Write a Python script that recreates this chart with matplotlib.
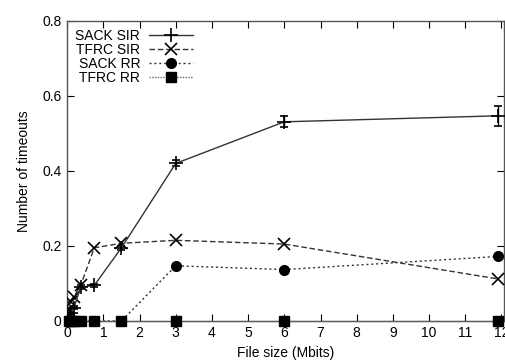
import numpy as np
import matplotlib
matplotlib.use("Agg")
import matplotlib.pyplot as plt
from matplotlib.lines import Line2D

plt.rcParams['font.family'] = ['Liberation Sans', 'DejaVu Sans']

file_size = [0.047, 0.094, 0.1875, 0.375, 0.75, 1.5, 3, 6, 11.9]
sack_sir = [0.005, 0.02, 0.035, 0.09, 0.095, 0.195, 0.42, 0.531, 0.547]
sack_sir_err = [0.002, 0.003, 0.004, 0.005, 0.004, 0.006, 0.008, 0.015, 0.027]
tfrc_sir = [0.03, 0.05, 0.065, 0.095, 0.195, 0.207, 0.215, 0.205, 0.112]
sack_rr = [0, 0, 0, 0, 0, 0, 0.147, 0.137, 0.172]
tfrc_rr = [0, 0, 0, 0, 0, 0, 0, 0, 0]

def main():
    fig = plt.figure(figsize=(5.05, 3.61), dpi=100)
    ax = fig.add_axes([0.133, 0.111, 0.865, 0.831])
    lc = '#333333'
    ax.errorbar(file_size, sack_sir, yerr=sack_sir_err, color=lc, lw=1.0,
                marker='+', ms=10, mew=1.2, mec='black', ecolor='black',
                elinewidth=1.0, capsize=3, zorder=4)
    h1 = Line2D([], [], color=lc, lw=1.0, marker='+', ms=10, mew=1.2,
                mec='black', label='SACK SIR')
    h2, = ax.plot(file_size, tfrc_sir, color=lc, lw=1.0, ls=(0, (4, 2)),
                  marker='x', ms=8, mew=1.2, mec='black', label='TFRC SIR', zorder=4)
    h3, = ax.plot(file_size, sack_rr, color=lc, lw=1.0, ls=(0, (1.5, 2)),
                  marker='o', ms=7, mfc='black', mec='black', label='SACK RR', zorder=4)
    h4, = ax.plot(file_size, tfrc_rr, color='#666666', lw=1.0, ls=(0, (1, 1)),
                  marker='s', ms=7, mfc='black', mec='black', label='TFRC RR', zorder=5,
                  clip_on=False)

    ax.set_xlim(0, 12.07)
    ax.set_ylim(0, 0.8)
    ax.set_xticks(range(0, 13))
    ax.set_yticks([0, 0.2, 0.4, 0.6, 0.8])
    ax.set_yticklabels(['0', '0.2', '0.4', '0.6', '0.8'])
    ax.tick_params(direction='in', top=True, right=True, labelsize=10,
                   length=5, width=0.8, pad=4)
    for s in ax.spines.values():
        s.set_color('#555555')
        s.set_linewidth(1.0)
    ax.set_xlabel('File size (Mbits)', fontsize=10, labelpad=4)
    ax.set_ylabel('Number of timeouts', fontsize=10, labelpad=8)
    ax.legend(handles=[h1, h2, h3, h4], loc='upper left', markerfirst=False,
              frameon=False, fontsize=10, handlelength=3.2, handletextpad=0.6,
              labelspacing=0.0, borderaxespad=0.2, bbox_to_anchor=(0.0, 1.0))
    fig.savefig('out.png', dpi=100)

if __name__ == "__main__":
    main()
